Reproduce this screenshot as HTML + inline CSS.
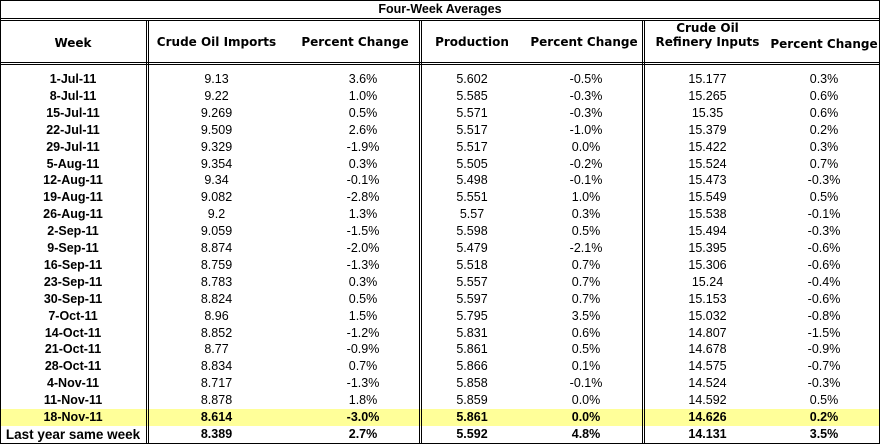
<!DOCTYPE html>
<html><head><style>
body{margin:0;background:#fff;width:880px;height:446px;position:relative;overflow:hidden}
.l{position:absolute;background:#000}
.t{position:absolute;font-family:"Liberation Sans",Arial,sans-serif;font-size:12.5px;text-align:center;white-space:nowrap;line-height:17px}
.h{position:absolute;font-family:"DejaVu Sans",Verdana,sans-serif;font-weight:bold;font-size:12px;text-align:center;white-space:nowrap;line-height:14px}
.b{font-weight:bold}
</style></head><body>
<div style="position:absolute;left:1px;top:409px;width:878px;height:17px;background:#ffff99"></div>
<div class="l" style="left:0;top:0;width:880px;height:1px"></div>
<div class="l" style="left:0;top:0;width:1px;height:444px"></div>
<div class="l" style="left:879px;top:0;width:1px;height:444px"></div>
<div class="l" style="left:0;top:443px;width:880px;height:1px"></div>
<div class="l" style="left:0;top:18px;width:880px;height:1px"></div>
<div class="l" style="left:0;top:20px;width:880px;height:1px"></div>
<div class="l" style="left:0;top:62px;width:880px;height:1px"></div>
<div class="l" style="left:0;top:64px;width:880px;height:1px"></div>
<div class="l" style="left:146px;top:20px;width:1px;height:424px"></div>
<div class="l" style="left:148px;top:20px;width:1px;height:424px"></div>
<div class="l" style="left:419px;top:20px;width:1px;height:424px"></div>
<div class="l" style="left:421px;top:20px;width:1px;height:424px"></div>
<div class="l" style="left:642px;top:20px;width:1px;height:424px"></div>
<div class="l" style="left:644px;top:20px;width:1px;height:424px"></div>
<div class="t b" style="left:0;width:880px;top:1px;font-size:12.5px">Four-Week Averages</div>
<div class="h" style="left:0;width:146px;top:36px">Week</div>
<div class="h" style="left:149px;width:135px;top:35px">Crude Oil Imports</div>
<div class="h" style="left:290px;width:130px;top:35px">Percent Change</div>
<div class="h" style="left:422px;width:100px;top:35px">Production</div>
<div class="h" style="left:526px;width:116px;top:35px">Percent Change</div>
<div class="h" style="left:645px;width:125px;top:21px">Crude Oil<br>Refinery Inputs</div>
<div class="h" style="left:768px;width:112px;top:37px">Percent Change</div>
<div id="rows"></div>
<script>
var d=[["1-Jul-11","9.13","3.6%","5.602","-0.5%","15.177","0.3%"],
["8-Jul-11","9.22","1.0%","5.585","-0.3%","15.265","0.6%"],
["15-Jul-11","9.269","0.5%","5.571","-0.3%","15.35","0.6%"],
["22-Jul-11","9.509","2.6%","5.517","-1.0%","15.379","0.2%"],
["29-Jul-11","9.329","-1.9%","5.517","0.0%","15.422","0.3%"],
["5-Aug-11","9.354","0.3%","5.505","-0.2%","15.524","0.7%"],
["12-Aug-11","9.34","-0.1%","5.498","-0.1%","15.473","-0.3%"],
["19-Aug-11","9.082","-2.8%","5.551","1.0%","15.549","0.5%"],
["26-Aug-11","9.2","1.3%","5.57","0.3%","15.538","-0.1%"],
["2-Sep-11","9.059","-1.5%","5.598","0.5%","15.494","-0.3%"],
["9-Sep-11","8.874","-2.0%","5.479","-2.1%","15.395","-0.6%"],
["16-Sep-11","8.759","-1.3%","5.518","0.7%","15.306","-0.6%"],
["23-Sep-11","8.783","0.3%","5.557","0.7%","15.24","-0.4%"],
["30-Sep-11","8.824","0.5%","5.597","0.7%","15.153","-0.6%"],
["7-Oct-11","8.96","1.5%","5.795","3.5%","15.032","-0.8%"],
["14-Oct-11","8.852","-1.2%","5.831","0.6%","14.807","-1.5%"],
["21-Oct-11","8.77","-0.9%","5.861","0.5%","14.678","-0.9%"],
["28-Oct-11","8.834","0.7%","5.866","0.1%","14.575","-0.7%"],
["4-Nov-11","8.717","-1.3%","5.858","-0.1%","14.524","-0.3%"],
["11-Nov-11","8.878","1.8%","5.859","0.0%","14.592","0.5%"],
["18-Nov-11","8.614","-3.0%","5.861","0.0%","14.626","0.2%"],
["Last year same week","8.389","2.7%","5.592","4.8%","14.131","3.5%"]];
var c=[[0,146],[149,135],[300,126],[422,100],[530,112],[645,125],[768,112]];
var h="";
d.forEach(function(r,i){var y=i<21?71+i*16.9:426;var bold=i>=20;
r.forEach(function(v,j){var fs=(i==21&&j==0)?' font-size:13.5px;':'';h+='<div class="t'+(j==0||bold?' b':'')+'" style="left:'+c[j][0]+'px;width:'+c[j][1]+'px;top:'+y+'px;'+fs+'">'+v+'</div>';});});
document.getElementById("rows").innerHTML=h;
</script>
</body></html>
